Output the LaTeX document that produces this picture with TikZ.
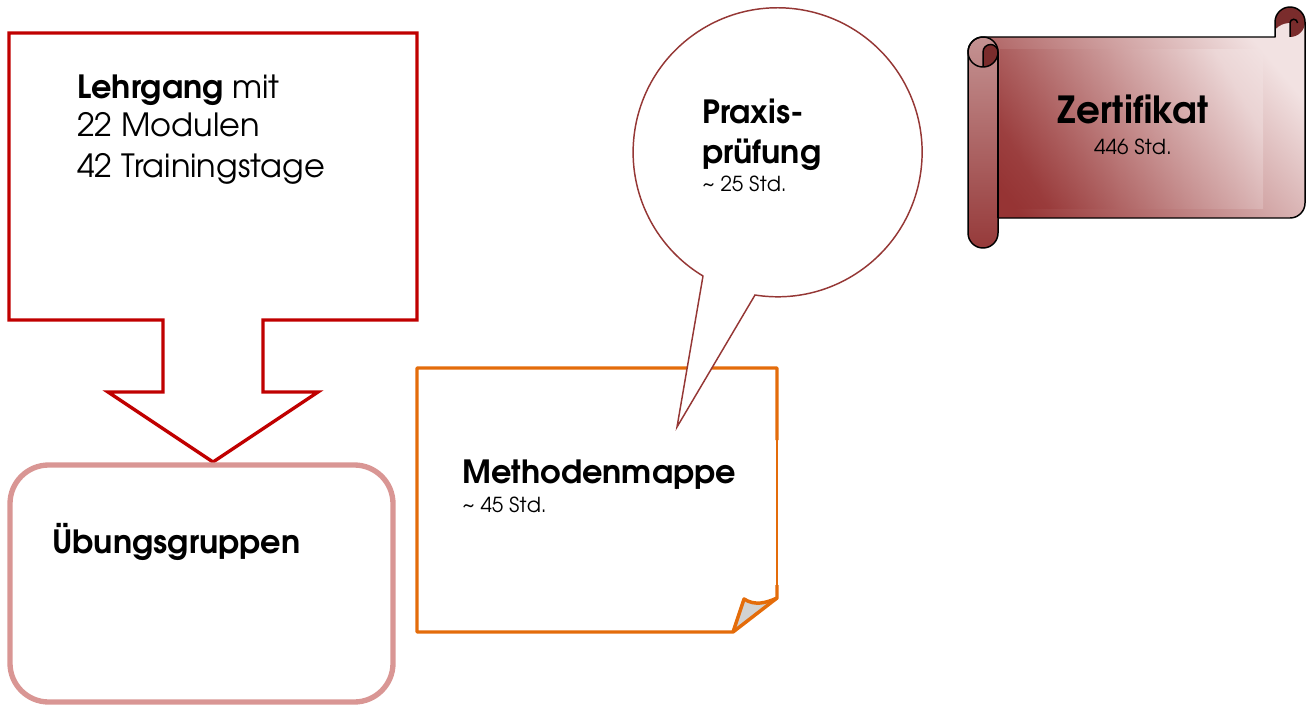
\documentclass[tikz,border=0pt]{standalone}
\usepackage{fontspec}
\setmainfont{TeX Gyre Adventor}
\usepackage{tikz}
\definecolor{lehrred}{RGB}{192,0,0}
\definecolor{uebrose}{RGB}{217,150,148}
\definecolor{mapporange}{RGB}{228,108,10}
\definecolor{bubblered}{RGB}{149,55,53}
\definecolor{foldgray}{RGB}{210,210,210}
\definecolor{scrolldark}{RGB}{150,52,52}
\definecolor{scrolllight}{RGB}{242,226,226}
\definecolor{rolldark}{RGB}{122,44,44}
\definecolor{rollpink}{RGB}{196,146,146}
\definecolor{rollred}{RGB}{150,58,58}
\tikzset{
  headtxt/.style={font=\fontsize{24}{29}\selectfont\bfseries, anchor=base west, inner sep=0pt},
  bodytxt/.style={font=\fontsize{24}{29}\selectfont, anchor=base west, inner sep=0pt},
  smalltxt/.style={font=\fontsize{15.5}{18}\selectfont, anchor=base west, inner sep=0pt},
  ztitle/.style={font=\fontsize{28}{32}\selectfont\bfseries, anchor=base, inner sep=0pt},
  zsmall/.style={font=\fontsize{15.5}{18}\selectfont, anchor=base, inner sep=0pt},
}

\begin{document}
\begin{tikzpicture}[x=0.75pt,y=-0.75pt]
    \useasboundingbox (0,0) rectangle (1308,706);
    %%% LEHRGANG %%%
    % arrow callout %
    \draw[lehrred,line width=2.5pt] (9,33)--(417,33)--(417,320)--(263,320)--(263,392)--(318,392)--(213,462)--(108,392)--(163,392)--(163,320)--(9,320)--cycle;
    % text %
    \node[bodytxt] (lehrgang) at (77,99) {\textbf{Lehrgang} mit};
    \node[bodytxt] (module) at (77,137) {22 Modulen};
    \node[bodytxt] (tage) at (77,177) {42 Trainingstage};
    %%% UEBUNGSGRUPPEN %%%
    \draw[uebrose,line width=4pt,rounded corners=29pt] (10,465) rectangle (393,702);
    \node[headtxt] (uebung) at (52,553) {Übungsgruppen};
    %%% METHODENMAPPE %%%
    % sheet with folded corner %
    \fill[foldgray] (733,632)--(744,599) .. controls (755,606) and (766,603) .. (777,598)--cycle;
    \draw[mapporange,line width=2.6pt,line join=round] (777,440)--(777,368)--(417,368)--(417,632)--(733,632)--(777,598)--(777,585);
    \draw[mapporange,line width=0.8pt] (777,440)--(777,585);
    \draw[mapporange,line width=2.6pt,line join=round] (733,632)--(744,599) .. controls (755,606) and (766,603) .. (777,598);
    % text %
    \node[headtxt] (mappe) at (462,483) {Methodenmappe};
    \node[smalltxt] (mappestd) at (462,512) {\textasciitilde\ 45 Std.};
    %%% PRAXISPRUEFUNG %%%
    % speech bubble %
    \coordinate (tip) at (677,427);
    \filldraw[fill=white,draw=bubblered,line width=1.1pt] (703,276)--(tip)--(755,295) arc[start angle=99,end angle=-239,radius=144.5]--cycle;
    % text %
    \node[headtxt] (praxis) at (702,123) {Praxis-};
    \node[headtxt] (pruefung) at (702,163) {prüfung};
    \node[smalltxt] (praxisstd) at (702,191) {\textasciitilde\ 25 Std.};
    %%% ZERTIFIKAT %%%
    % scroll body %
    \shade[top color=scrolllight,bottom color=scrolldark,shading angle=-50] (983,37)--(1275,37)--(1275,22) arc[start angle=180,end angle=360,radius=15]--(1305,203) arc[start angle=0,end angle=90,radius=15]--(998,218)--(998,233) arc[start angle=0,end angle=180,radius=15]--(968,52) arc[start angle=180,end angle=270,radius=15]--cycle;
    \shade[top color=scrolllight,bottom color=scrolldark,shading angle=-60,opacity=0.5] (1000,50) rectangle (1263,208);
    % left roll %
    \shade[top color=rollpink,bottom color=rollred] (968,52) arc[start angle=180,end angle=360,radius=15]--(998,233) arc[start angle=0,end angle=180,radius=15]--cycle;
    \fill[rolldark] (983,67)--(983,52) arc[start angle=180,end angle=360,radius=7.5] arc[start angle=0,end angle=90,radius=15]--cycle;
    % right roll %
    \fill[rolldark] (1290,22) circle[radius=15];
    \fill[scrolllight] (1275,37)--(1275,30) .. controls (1279,25) and (1285,23) .. (1290,23)--(1290,37)--cycle;
    % outlines %
    \draw[line width=1.1pt,line join=round] (983,37)--(1275,37)--(1275,22) arc[start angle=180,end angle=360,radius=15]--(1305,203) arc[start angle=0,end angle=90,radius=15]--(998,218)--(998,233) arc[start angle=0,end angle=180,radius=15]--(968,52) arc[start angle=180,end angle=270,radius=15]--cycle;
    \draw[line width=1.1pt] (983,52) circle[radius=15];
    \draw[line width=1.1pt] (998,52)--(998,218);
    \draw[line width=1.1pt] (983,67)--(983,52) arc[start angle=180,end angle=360,radius=7.5];
    \draw[line width=1.1pt] (1290,37)--(1290,23) arc[start angle=180,end angle=360,radius=3.75];
    % text %
    \node[ztitle] (zert) at (1133,124) {Zertifikat};
    \node[zsmall] (zertstd) at (1133,154) {446 Std.};
\end{tikzpicture}
\end{document}
